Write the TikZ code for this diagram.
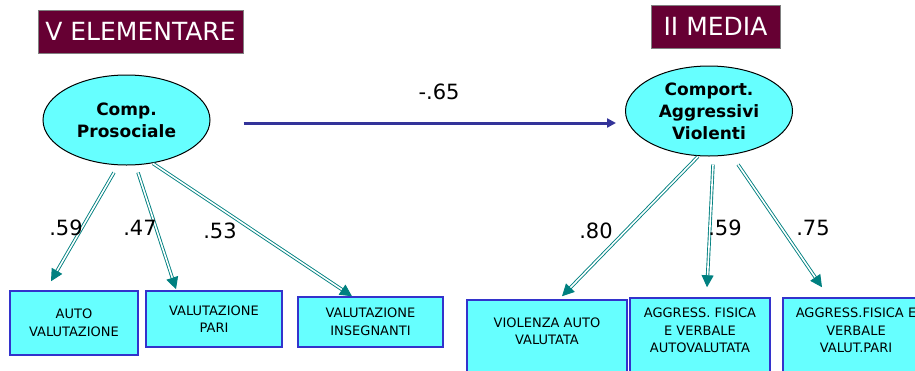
\documentclass[tikz,border=0pt]{standalone}
\usepackage{fontspec}
\setmainfont{DejaVu Sans}
\usetikzlibrary{shapes.geometric,arrows.meta}
\definecolor{maroon}{HTML}{660033}
\definecolor{aqua}{HTML}{66FFFF}
\definecolor{boxblue}{HTML}{3333CC}
\definecolor{loadteal}{HTML}{008080}
\definecolor{pathblue}{HTML}{333399}
\begin{document}
\begin{tikzpicture}[x=1pt,y=-1pt,
	titlebox/.style={draw=gray, fill=maroon, text=white, font=\fontsize{25}{28}\selectfont, inner sep=0pt, minimum height=43pt},
	latent/.style={ellipse, draw, fill=aqua, line width=1pt, inner sep=0pt, minimum width=167pt, minimum height=90pt, align=center, font=\fontsize{17}{22}\selectfont\bfseries},
	observed/.style={draw=boxblue, fill=aqua, line width=1.5pt, inner sep=0pt, align=center, font=\fontsize{13}{17.5}\selectfont},
	loading/.style={draw=loadteal, double=white, double distance=1.6pt, line width=0.9pt, -{Triangle[length=12pt,width=12pt]}},
	coef/.style={font=\fontsize{21}{25}\selectfont}]
	\useasboundingbox (0,0) rectangle (915,370);
	\clip (0,0) rectangle (915,370);
	% group titles
	\draw (140.5,31.5) node[titlebox, minimum width=205pt](t1){V ELEMENTARE};
	\draw (715.5,26.5) node[titlebox, minimum width=129pt](t2){II MEDIA};
	% latent factors
	\draw (126.5,120) node[latent](e1){Comp.\\Prosociale};
	\draw (709,111) node[latent](e2){Comport.\\Aggressivi\\Violenti};
	% indicators
	\draw (74,323) node[observed, minimum width=128pt, minimum height=64pt](a1){AUTO\\VALUTAZIONE};
	\draw (214,319) node[observed, minimum width=136pt, minimum height=56pt](a2){VALUTAZIONE\\PARI};
	\draw (370.5,322) node[observed, minimum width=145pt, minimum height=50pt](a3){VALUTAZIONE\\INSEGNANTI};
	\draw (547,340) node[observed, minimum width=160pt, minimum height=80pt](b1){VIOLENZA AUTO\\VALUTATA\\~};
	\draw (700,339) node[observed, minimum width=140pt, minimum height=82pt](b2){AGGRESS. FISICA\\E VERBALE\\AUTOVALUTATA\\~};
	\draw (856,339) node[observed, minimum width=146pt, minimum height=82pt](b3){AGGRESS.FISICA E\\VERBALE\\VALUT.PARI\\~};
	% path between the two factors
	\draw[line width=3pt, pathblue, -{Triangle[length=9pt,width=9pt]}] ([xshift=33pt,yshift=-3pt]e1.east) -- ([xshift=-9pt,yshift=-12pt]e2.west);
	\draw (439,92) node[coef](p0){-.65};
	% loadings
	\draw[loading] ([xshift=-12.5pt,yshift=-7pt]e1.south) -- ([xshift=-23pt,yshift=9pt]a1.north);
	\draw[loading] ([xshift=11.5pt,yshift=-7pt]e1.south) -- ([xshift=-38pt,yshift=1pt]a2.north);
	\draw[loading] ([xshift=26.5pt,yshift=2pt]e1.south) -- ([xshift=-18.5pt]a3.north);
	\draw[loading] ([xshift=-11pt]e2.south) -- ([xshift=15pt,yshift=3pt]b1.north);
	\draw[loading] ([xshift=4pt,yshift=-8pt]e2.south) -- ([xshift=7pt,yshift=10pt]b2.north);
	\draw[loading] ([xshift=29pt,yshift=-8pt]e2.south) -- ([xshift=-34pt,yshift=10pt]b3.north);
	\draw (66,228) node[coef](l1){.59};
	\draw (140,228) node[coef](l2){.47};
	\draw (220,231) node[coef](l3){.53};
	\draw (596,231) node[coef](l4){.80};
	\draw (725,228) node[coef](l5){.59};
	\draw (813,228) node[coef](l6){.75};
\end{tikzpicture}
\end{document}
